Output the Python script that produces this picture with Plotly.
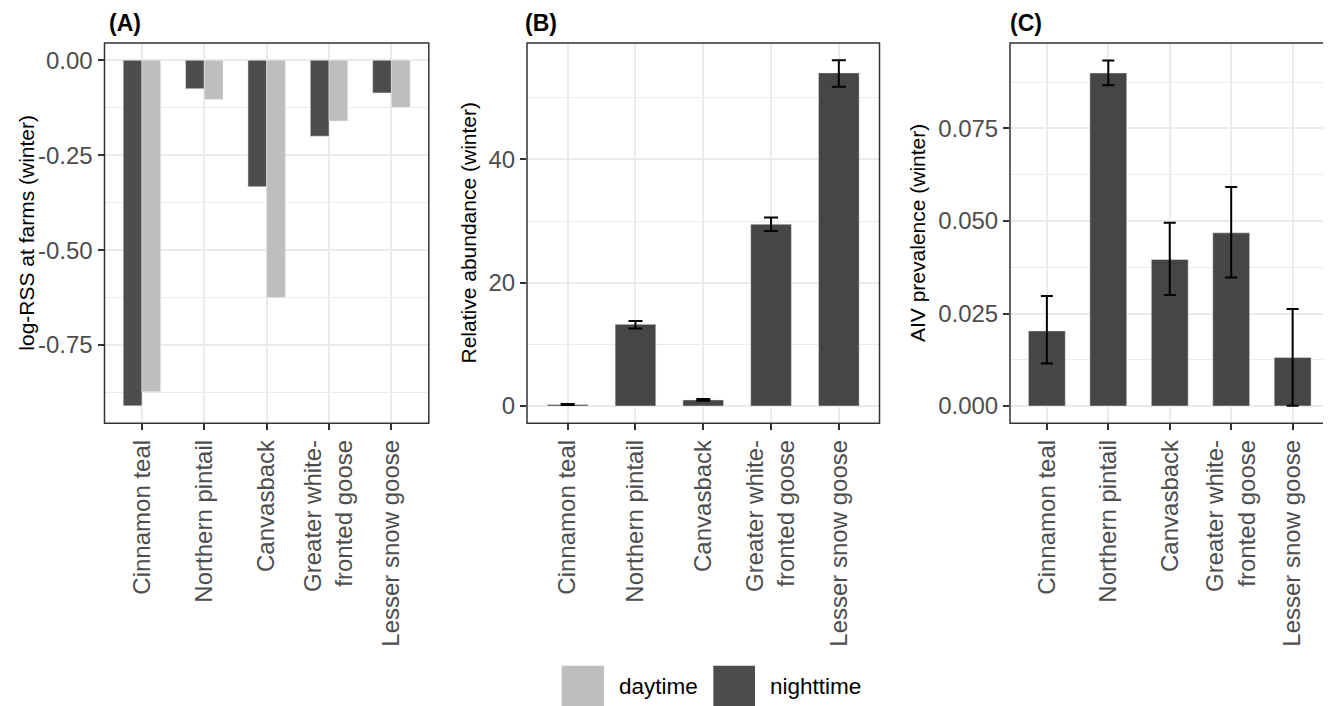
import plotly.graph_objects as go

# ---------------- data ----------------
species = ["Cinnamon teal", "Northern pintail", "Canvasback",
           "Greater white-fronted goose", "Lesser snow goose"]
species_labels = ["Cinnamon teal", "Northern pintail", "Canvasback",
                  "Greater white-<br>fronted goose", "Lesser snow goose"]

# (A) log-RSS at farms (winter)
logrss_night = [-0.910, -0.075, -0.333, -0.200, -0.086]
logrss_day = [-0.873, -0.103, -0.625, -0.160, -0.124]

# (B) relative abundance (winter)
abund = [0.25, 13.25, 1.0, 29.5, 54.05]
abund_lo = [0.15, 12.6, 0.85, 28.4, 51.8]
abund_hi = [0.35, 13.8, 1.15, 30.6, 56.1]

# (C) AIV prevalence (winter)
prev = [0.0203, 0.0900, 0.0396, 0.0468, 0.0131]
prev_lo = [0.0115, 0.0867, 0.0300, 0.0347, 0.0001]
prev_hi = [0.0297, 0.0934, 0.0495, 0.0592, 0.0262]

tick_a = [0.0, -0.25, -0.50, -0.75]
tick_a_lab = ["0.00", "-0.25", "-0.50", "-0.75"]
minor_a = [-0.125, -0.375, -0.625, -0.875]
tick_b = [0, 20, 40]
tick_b_lab = ["0", "20", "40"]
minor_b = [10, 30, 50]
tick_c = [0.0, 0.025, 0.05, 0.075]
tick_c_lab = ["0.000", "0.025", "0.050", "0.075"]
minor_c = [0.0125, 0.0375, 0.0625, 0.0875]

# ---------------- styles ----------------
OFF = 8  # page body margin
W, H = 1331 - OFF, 706 - OFF
FONT = "Liberation Sans, Arial, sans-serif"
NIGHT = "#4D4D4D"
DAY = "#BEBEBE"
BAR2 = "#464646"
GRID = "#EBEBEB"
BORDER = "#333333"
TICKCOL = "#4D4D4D"


def px(x):
    return (x - OFF) / W


def py(y):
    return 1 - (y - OFF) / H


def xd(a, b):
    return [px(a), px(b)]


def yd(top, bottom):
    return [py(bottom), py(top)]


fig = go.Figure()

fig.add_trace(go.Bar(x=species, y=logrss_night, name="nighttime", marker_color=NIGHT,
                     width=0.3, offset=-0.3, xaxis="x", yaxis="y", showlegend=False))
fig.add_trace(go.Bar(x=species, y=logrss_day, name="daytime", marker_color=DAY,
                     width=0.3, offset=0.0, xaxis="x", yaxis="y", showlegend=False))

fig.add_trace(go.Bar(x=species, y=abund, marker_color=BAR2, width=0.6,
                     error_y=dict(type="data", symmetric=False,
                                  array=[h - v for h, v in zip(abund_hi, abund)],
                                  arrayminus=[v - l for v, l in zip(abund, abund_lo)],
                                  color="black", thickness=2, width=7),
                     xaxis="x2", yaxis="y2", showlegend=False))

fig.add_trace(go.Bar(x=species, y=prev, marker_color=BAR2, width=0.6,
                     error_y=dict(type="data", symmetric=False,
                                  array=[h - v for h, v in zip(prev_hi, prev)],
                                  arrayminus=[v - l for v, l in zip(prev, prev_lo)],
                                  color="black", thickness=2, width=6),
                     xaxis="x3", yaxis="y3", showlegend=False))


def xaxis_style(dom, anchor):
    return dict(domain=dom, anchor=anchor, type="category",
                categoryorder="array", categoryarray=species,
                tickvals=species, ticktext=species_labels,
                range=[-0.6, 4.6], showgrid=True, gridcolor=GRID, gridwidth=1.8,
                ticks="outside", ticklen=6, tickwidth=1.5, tickcolor=BORDER,
                tickangle=-90, tickfont=dict(family=FONT, size=24, color=TICKCOL),
                zeroline=False, showline=False, fixedrange=True)


def yaxis_style(dom, anchor, rng, tv, tt, mv):
    return dict(domain=dom, anchor=anchor, range=rng, tickvals=tv, ticktext=tt,
                showgrid=True, gridcolor=GRID, gridwidth=1.8,
                minor=dict(tickvals=mv, showgrid=True, gridcolor=GRID, gridwidth=1),
                ticks="outside", ticklen=6, tickwidth=1.5, tickcolor=BORDER,
                tickfont=dict(family=FONT, size=24, color=TICKCOL),
                zeroline=False, showline=False, fixedrange=True)


ydom = yd(43, 423.3)
fig.update_layout(
    width=W, height=H, margin=dict(l=0, r=0, t=0, b=0),
    paper_bgcolor="white", plot_bgcolor="white",
    barmode="overlay", showlegend=False,
    font=dict(family=FONT, color="black"),
    xaxis=xaxis_style(xd(104.5, 428.8), "y"),
    yaxis=yaxis_style(ydom, "x", [-0.956, 0.0455], tick_a, tick_a_lab, minor_a),
    xaxis2=xaxis_style(xd(527, 879.5), "y2"),
    yaxis2=yaxis_style(ydom, "x2", [-2.8, 58.9], tick_b, tick_b_lab, minor_b),
    xaxis3=xaxis_style(xd(1010, 1329.5), "y3"),
    yaxis3=yaxis_style(ydom, "x3", [-0.00467, 0.0981], tick_c, tick_c_lab, minor_c),
)

shapes = []
for n in ["", "2", "3"]:
    shapes.append(dict(type="rect", xref=f"x{n} domain", yref=f"y{n} domain",
                       x0=0, x1=1, y0=0, y1=1, line=dict(color=BORDER, width=1.5),
                       fillcolor="rgba(0,0,0,0)", layer="above"))

# legend keys (manual, bottom centre)
legend_items = [("daytime", DAY, 561.7, 604.0, 616.7), ("nighttime", NIGHT, 713.3, 755.0, 768.3)]
annotations = []
for name, col, k0, k1, tx in legend_items:
    shapes.append(dict(type="rect", xref="paper", yref="paper",
                       x0=px(k0), x1=px(k1), y0=py(706), y1=py(665.7),
                       line=dict(width=0), fillcolor=col, layer="above"))
    annotations.append(dict(text=name, xref="paper", yref="paper", x=px(tx), y=py(686),
                            xanchor="left", yanchor="middle", showarrow=False,
                            font=dict(family=FONT, size=22.5, color="black")))

# axis titles
for txt, cx in [("log-RSS at farms (winter)", 25.7),
                ("Relative abundance (winter)", 467.5),
                ("AIV prevalence (winter)", 917.0)]:
    annotations.append(dict(text=txt, xref="paper", yref="paper", x=px(cx), y=py(233),
                            xanchor="center", yanchor="middle", textangle=-90, showarrow=False,
                            font=dict(family=FONT, size=21, color="black")))

# panel tags
for txt, lx in [("(A)", 106.7), ("(B)", 523.3), ("(C)", 1007.7)]:
    annotations.append(dict(text=f"<b>{txt}</b>", xref="paper", yref="paper", x=px(lx),
                            y=py(23), xanchor="left", yanchor="middle", showarrow=False,
                            font=dict(family=FONT, size=23, color="black")))

fig.update_layout(shapes=shapes, annotations=annotations)

fig.write_html("out.html")
